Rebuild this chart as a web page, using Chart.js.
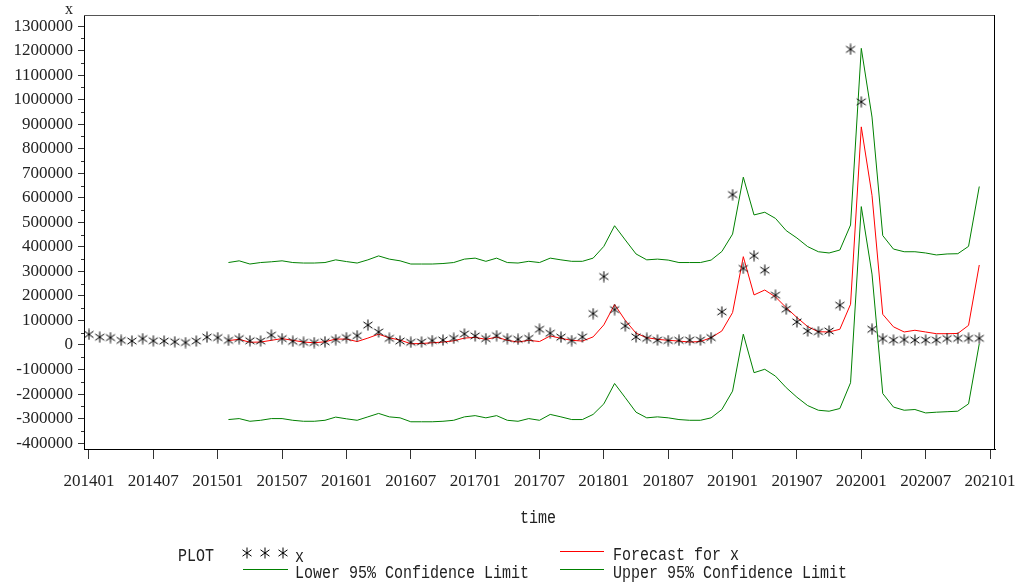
<!DOCTYPE html>
<html>
<head>
<meta charset="utf-8">
<script src="https://cdn.jsdelivr.net/npm/chart.js@4"></script>
<style>
  html, body { margin: 0; padding: 0; background: #fff; }
  canvas { display: block; }
</style>
</head>
<body>
<canvas id="c" width="1019" height="585"></canvas>
<script>
// Monthly series, 201401 .. 202012 (index 0 .. 83)
const firstYear = 2014;
const months = [];
for (let y = firstYear; y <= 2020; y++) {
  for (let m = 1; m <= 12; m++) months.push(String(y) + (m < 10 ? '0' : '') + m);
}

// Tick labels along the time axis (every six months)
const tickLabels = ['201401','201407','201501','201507','201601','201607','201701','201707',
                    '201801','201807','201901','201907','202001','202007','202101'];
const tickStep = 6;

// Value axis ticks
const yTicks = [-400000,-300000,-200000,-100000,0,100000,200000,300000,400000,500000,
                600000,700000,800000,900000,1000000,1100000,1200000,1300000];

// Observed values of x
const actual = [
  43000, 32000, 30000, 19000, 16000, 26000, 17000, 16000, 13000, 10000, 16000, 32000,
  30000, 19000, 26000, 17000, 16000, 40000, 26000, 15000, 11000, 10000, 13000, 22000,
  30000, 38000, 81000, 53000, 27000, 16000, 11000, 12000, 18000, 20000, 27000, 45000,
  37000, 26000, 38000, 26000, 23000, 27000, 64000, 48000, 32000, 18000, 33000, 128000,
  279000, 144000, 78000, 33000, 27000, 20000, 18000, 19000, 20000, 20000, 30000, 135000,
  613000, 312000, 364000, 305000, 203000, 146000, 94000, 57000, 54000, 57000, 162000, 1205000,
  991000, 64000, 26000, 20000, 22000, 20000, 20000, 20000, 26000, 27000, 27000, 27000
];

// One-step forecasts (start at 201502)
const forecast = [
  null, null, null, null, null, null, null, null, null, null, null, null,
  null, 18000, 23000, 11000, 12000, 19000, 26000, 19000, 12000, 9000, 13000, 24000,
  24000, 14000, 28000, 44000, 29000, 20000, 5000, 6000, 9000, 12000, 17000, 28000,
  31000, 23000, 32000, 19000, 12000, 19000, 14000, 37000, 27000, 19000, 16000, 33000,
  82000, 165000, 100000, 48000, 30000, 23000, 19000, 16000, 12000, 14000, 30000, 57000,
  132000, 360000, 204000, 224000, 196000, 152000, 112000, 75000, 54000, 53000, 64000, 166000,
  889000, 610000, 125000, 74000, 53000, 60000, 53000, 46000, 46000, 47000, 80000, 326000
];

// Upper 95% confidence limit
const upper = [
  null, null, null, null, null, null, null, null, null, null, null, null,
  null, 336000, 343000, 330000, 336000, 339000, 343000, 336000, 334000, 334000, 336000, 347000,
  340000, 334000, 347000, 363000, 350000, 343000, 330000, 330000, 330000, 332000, 336000, 350000,
  354000, 341000, 354000, 336000, 334000, 341000, 336000, 354000, 347000, 341000, 341000, 354000,
  402000, 486000, 428000, 371000, 347000, 350000, 346000, 336000, 336000, 336000, 346000, 381000,
  452000, 684000, 530000, 541000, 516000, 466000, 436000, 401000, 380000, 375000, 387000, 489000,
  1209000, 929000, 446000, 391000, 380000, 380000, 375000, 367000, 371000, 372000, 402000, 646000
];

// Lower 95% confidence limit
const lower = [
  null, null, null, null, null, null, null, null, null, null, null, null,
  null, -304000, -300000, -311000, -307000, -300000, -300000, -307000, -311000, -311000, -307000, -294000,
  -301000, -307000, -293000, -279000, -293000, -297000, -313000, -313000, -313000, -311000, -307000, -293000,
  -288000, -297000, -288000, -307000, -311000, -300000, -307000, -283000, -293000, -304000, -304000, -283000,
  -240000, -157000, -215000, -274000, -297000, -293000, -297000, -304000, -307000, -307000, -297000, -263000,
  -188000, 44000, -113000, -99000, -127000, -174000, -213000, -247000, -266000, -270000, -259000, -154000,
  564000, 289000, -198000, -253000, -266000, -263000, -277000, -274000, -272000, -270000, -240000, 5000
];

const seriesNames = ['x', 'Forecast for x', 'Lower 95% Confidence Limit', 'Upper 95% Confidence Limit'];

const toPoints = arr => arr.map((v, i) => ({ x: i, y: v })).filter(p => p.y !== null);

// Asterisk marker
function makeAsterisk() {
  const s = 12, c = s / 2, r = 5.5;
  const cv = document.createElement('canvas');
  cv.width = s; cv.height = s;
  const g = cv.getContext('2d');
  g.strokeStyle = '#000';
  g.lineWidth = 1;
  g.beginPath();
  g.moveTo(c, c - r); g.lineTo(c, c + r);
  const a = 35 * Math.PI / 180;
  const dx = r * Math.cos(a), dy = r * Math.sin(a);
  g.moveTo(c - dx, c - dy); g.lineTo(c + dx, c + dy);
  g.moveTo(c - dx, c + dy); g.lineTo(c + dx, c - dy);
  g.stroke();
  return cv;
}
const asterisk = makeAsterisk();

const RED = '#ff0000';
const GREEN = '#008000';
const TEXT = '#222';
const monoFont = '15px "Liberation Mono"';

function stretchedText(ctx, str, x, y, align) {
  ctx.save();
  ctx.translate(x, y);
  ctx.scale(1, 1.18);
  ctx.textAlign = align;
  ctx.textBaseline = 'middle';
  ctx.fillText(str, 0, 0);
  ctx.restore();
}

// Frame, minor ticks, axis titles and the legend block
const decorations = {
  id: 'decorations',
  afterDraw(chart) {
    const ctx = chart.ctx;
    const a = chart.chartArea;
    const ys = chart.scales.y;
    ctx.save();
    // top and right frame lines
    ctx.lineWidth = 1;
    ctx.strokeStyle = '#555';
    ctx.beginPath(); ctx.moveTo(a.left, a.top + 0.5); ctx.lineTo(a.right, a.top + 0.5); ctx.stroke();
    ctx.strokeStyle = '#000';
    ctx.beginPath(); ctx.moveTo(a.right - 0.5, a.top); ctx.lineTo(a.right - 0.5, a.bottom); ctx.stroke();
    // minor ticks halfway between labelled ticks
    ctx.strokeStyle = '#333';
    for (let k = 0; k < yTicks.length - 1; k++) {
      const v = (yTicks[k] + yTicks[k + 1]) / 2;
      const py = Math.round(ys.getPixelForValue(v)) + 0.5;
      ctx.beginPath(); ctx.moveTo(a.left - 3, py); ctx.lineTo(a.left, py); ctx.stroke();
    }
    // value axis title
    ctx.fillStyle = TEXT;
    ctx.font = '16px "Liberation Serif"';
    ctx.textAlign = 'center';
    ctx.textBaseline = 'middle';
    ctx.fillText('x', 69, 10);
    // time axis title
    ctx.font = monoFont;
    stretchedText(ctx, 'time', 538, 518, 'center');
    // legend
    stretchedText(ctx, 'PLOT', 178, 556, 'left');
    [247, 265, 283].forEach(cx => ctx.drawImage(asterisk, cx - 6, 553 - 6));
    stretchedText(ctx, seriesNames[0], 295, 557, 'left');
    ctx.lineWidth = 1;
    ctx.strokeStyle = GREEN;
    ctx.beginPath(); ctx.moveTo(243, 569.5); ctx.lineTo(288, 569.5); ctx.stroke();
    stretchedText(ctx, seriesNames[2], 295, 573, 'left');
    ctx.strokeStyle = RED;
    ctx.beginPath(); ctx.moveTo(560, 551.5); ctx.lineTo(604, 551.5); ctx.stroke();
    stretchedText(ctx, seriesNames[1], 613, 555, 'left');
    ctx.strokeStyle = GREEN;
    ctx.beginPath(); ctx.moveTo(560, 569.5); ctx.lineTo(604, 569.5); ctx.stroke();
    stretchedText(ctx, seriesNames[3], 613, 573, 'left');
    ctx.restore();
  }
};

const lineSet = (label, arr, color) => ({
  label, data: toPoints(arr), borderColor: color, backgroundColor: color,
  borderWidth: 1, pointRadius: 0, tension: 0, fill: false
});

const noEdgePadding = s => { s.paddingLeft = 0; s.paddingRight = 0; s.paddingTop = 0; s.paddingBottom = 0; };

new Chart(document.getElementById('c'), {
  type: 'line',
  data: {
    datasets: [
      { label: seriesNames[0], data: toPoints(actual), showLine: false,
        pointStyle: asterisk, pointRadius: 6, borderColor: '#000', backgroundColor: '#000' },
      lineSet(seriesNames[1], forecast, RED),
      lineSet(seriesNames[2], lower, GREEN),
      lineSet(seriesNames[3], upper, GREEN)
    ]
  },
  options: {
    responsive: false,
    animation: false,
    devicePixelRatio: 1,
    layout: { padding: { top: 15, right: 24, left: 0, bottom: 0 } },
    plugins: { legend: { display: false }, tooltip: { enabled: false } },
    scales: {
      x: {
        type: 'linear',
        min: -0.466, max: 84.466,
        afterFit: s => { s.height = 136; noEdgePadding(s); },
        afterBuildTicks: s => { s.ticks = tickLabels.map((t, k) => ({ value: k * tickStep })); },
        ticks: {
          callback: v => tickLabels[Math.round(v / tickStep)],
          autoSkip: false, maxRotation: 0, padding: 12,
          color: TEXT, font: { family: '"Liberation Serif"', size: 17 }
        },
        grid: { drawOnChartArea: false, tickLength: 10, tickColor: '#333' },
        border: { color: '#000', width: 1 }
      },
      y: {
        min: -424000, max: 1345000,
        afterFit: s => { s.width = 84; noEdgePadding(s); },
        afterBuildTicks: s => { s.ticks = yTicks.map(v => ({ value: v })); },
        ticks: {
          callback: v => String(v),
          padding: 5,
          color: TEXT, font: { family: '"Liberation Serif"', size: 17 }
        },
        grid: { drawOnChartArea: false, tickLength: 6, tickColor: '#333' },
        border: { color: '#000', width: 1 }
      }
    }
  },
  plugins: [decorations]
});
</script>
</body>
</html>
